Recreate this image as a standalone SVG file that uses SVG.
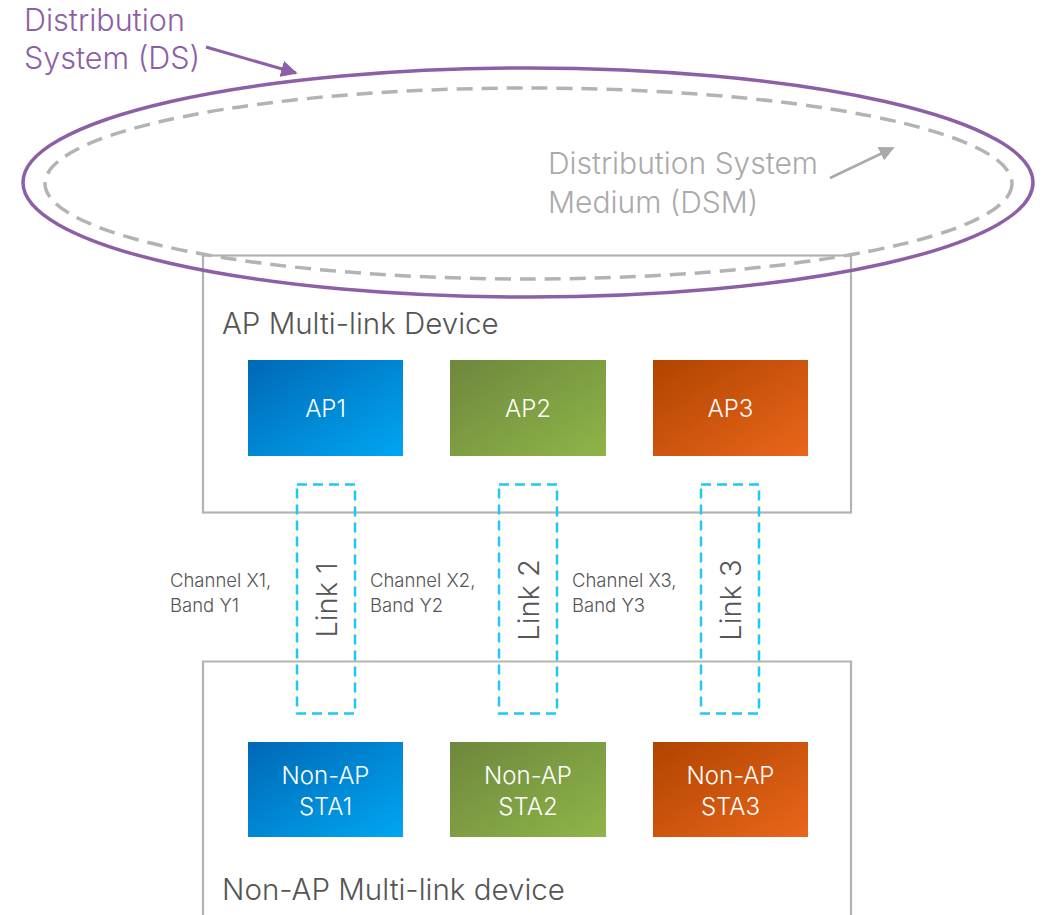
<svg xmlns="http://www.w3.org/2000/svg" width="1043" height="915" viewBox="0 0 1043 915">
<style>
.frame{fill:none;stroke:#b3b3b3;stroke-width:2.2}
.link{fill:none;stroke:#1ec8f0;stroke-width:2.5;stroke-dasharray:10 6}
.f{font-family:Inter,"Open Sans",sans-serif;font-weight:300}
.lbl{fill:#555}
.wt{fill:#fff;font-size:24px;text-anchor:middle}
.ch{fill:#555;font-size:18.5px}
</style>
<defs>
<linearGradient id="gb" x1="0" y1="0" x2="1" y2="1"><stop offset="0" stop-color="#0068b5"/><stop offset="1" stop-color="#00a6f2"/></linearGradient>
<linearGradient id="gg" x1="0" y1="0" x2="1" y2="1"><stop offset="0" stop-color="#6e873d"/><stop offset="1" stop-color="#8eb548"/></linearGradient>
<linearGradient id="go" x1="0" y1="0" x2="1" y2="1"><stop offset="0" stop-color="#b04400"/><stop offset="1" stop-color="#ea661b"/></linearGradient>
<marker id="ap" viewBox="0 0 10 10" refX="9" refY="5" markerWidth="5.5" markerHeight="5.5" orient="auto" markerUnits="strokeWidth"><path d="M0,0 L10,5 L0,10 z" fill="#8c5fa6"/></marker>
<marker id="ag" viewBox="0 0 10 10" refX="9" refY="5" markerWidth="6" markerHeight="6" orient="auto" markerUnits="strokeWidth"><path d="M0,0 L10,5 L0,10 z" fill="#aaaaaa"/></marker>
</defs>
<g id="ap-mld">
<rect class="frame" x="203" y="255.5" width="648" height="257"/>
<text class="f lbl" x="222" y="334" font-size="29.5">AP Multi-link Device</text>
</g>
<g id="non-ap-mld">
<path class="frame" d="M203,920 V661.5 H851 V920"/>
<text class="f lbl" x="222" y="900" font-size="29.5">Non-AP Multi-link device</text>
</g>
<g id="ds">
<ellipse cx="528" cy="182.5" rx="505" ry="114.5" fill="none" stroke="#8c5fa6" stroke-width="3.5"/>
<text class="f" x="24" y="31" font-size="30.5" fill="#8c5fa6">Distribution</text>
<text class="f" x="24" y="69" font-size="30.5" fill="#8c5fa6">System (DS)</text>
</g>
<g id="dsm">
<ellipse cx="528.5" cy="183.5" rx="483.5" ry="95.5" fill="none" stroke="#b3b3b3" stroke-width="3.5" stroke-dasharray="16 9"/>
<text class="f" x="548" y="174" font-size="30" fill="#aaaaaa">Distribution System</text>
<text class="f" x="548" y="213" font-size="30" fill="#aaaaaa">Medium (DSM)</text>
</g>
<g id="ap1"><rect x="248" y="360" width="155" height="96" fill="url(#gb)"/><text class="f wt" x="325.5" y="417">AP1</text></g>
<g id="ap2"><rect x="450" y="360" width="156" height="96" fill="url(#gg)"/><text class="f wt" x="528" y="417">AP2</text></g>
<g id="ap3"><rect x="653" y="360" width="155" height="96" fill="url(#go)"/><text class="f wt" x="730.5" y="417">AP3</text></g>
<g id="sta1"><rect x="248" y="742" width="155" height="95" fill="url(#gb)"/><text class="f wt" x="325.5" y="784">Non-AP</text><text class="f wt" x="325.5" y="815">STA1</text></g>
<g id="sta2"><rect x="450" y="742" width="156" height="95" fill="url(#gg)"/><text class="f wt" x="528" y="784">Non-AP</text><text class="f wt" x="528" y="815">STA2</text></g>
<g id="sta3"><rect x="653" y="742" width="155" height="95" fill="url(#go)"/><text class="f wt" x="730.5" y="784">Non-AP</text><text class="f wt" x="730.5" y="815">STA3</text></g>
<g id="connectors">
<line x1="206" y1="47" x2="296" y2="73" stroke="#8c5fa6" stroke-width="3" marker-end="url(#ap)"/>
<line x1="830" y1="178" x2="893" y2="148" stroke="#aaaaaa" stroke-width="2.5" marker-end="url(#ag)"/>
<g id="link1"><rect class="link" x="297" y="484.5" width="58" height="229"/><text class="f lbl" font-size="29" text-anchor="middle" transform="translate(337,600) rotate(-90)">Link 1</text></g>
<g id="link2"><rect class="link" x="499" y="484.5" width="58" height="229"/><text class="f lbl" font-size="29" text-anchor="middle" transform="translate(539,600) rotate(-90)">Link 2</text></g>
<g id="link3"><rect class="link" x="701" y="484.5" width="58" height="229"/><text class="f lbl" font-size="29" text-anchor="middle" transform="translate(741,600) rotate(-90)">Link 3</text></g>
<text class="f ch" x="170" y="587">Channel X1,</text><text class="f ch" x="170" y="612">Band Y1</text>
<text class="f ch" x="370" y="587">Channel X2,</text><text class="f ch" x="370" y="612">Band Y2</text>
<text class="f ch" x="572" y="587">Channel X3,</text><text class="f ch" x="572" y="612">Band Y3</text>
</g>
</svg>
